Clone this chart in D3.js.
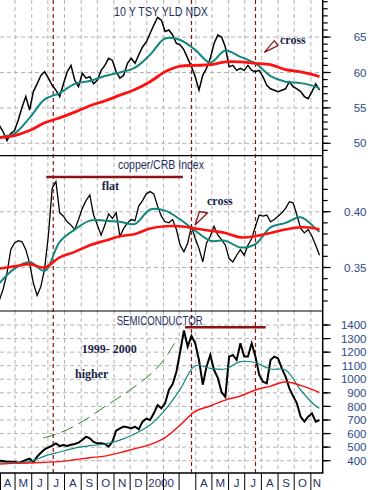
<!DOCTYPE html>
<html><head><meta charset="utf-8">
<script src="https://cdn.jsdelivr.net/npm/d3@7"></script>
<style>html,body{margin:0;padding:0;background:#fff;}svg{display:block;}</style>
</head><body><svg id="c" width="371" height="490"></svg>
<script>
// ---- DATA (weekly closes from 1999-04-02, moving averages every 4 weeks) ----
const firstWeek = "1999-04-02";
const tsyClose = [52.5,51.6,50.4,51.4,51.8,53.3,55.1,56.6,54.7,57.3,
58.4,59.6,60.1,59.2,58.2,57.5,56.6,58.4,60.1,61.0,
58.9,58.0,59.9,59.2,59.4,58.4,58.9,60.3,61.0,62.0,
61.7,60.1,59.2,59.6,61.3,62.0,61.3,62.5,63.6,64.3,
65.5,66.7,67.8,67.4,65.8,66.0,65.3,64.1,63.9,63.2,
62.0,60.8,59.4,57.5,59.6,60.6,62.0,64.1,65.3,65.0,
63.6,60.8,61.0,60.3,60.6,60.3,61.0,60.3,60.1,60.3,
59.4,58.2,57.7,57.5,57.3,57.5,57.7,58.7,58.0,57.7,
57.3,56.6,56.3,57.3,58.4,57.5];
const tsyMA50 = [50.9,51.4,53.6,56.2,57.1,58.4,58.8,59.5,60.0,60.7,62.5,64.8,64.6,63.2,61.4,63.1,62.2,61.3,59.5,58.7,58.5,58.0,57.7];
const tsyMA200 = [50.8,51.1,51.8,52.9,53.6,54.4,55.3,56.0,56.8,57.6,58.7,60.1,60.9,61.0,61.1,61.5,61.5,61.3,61.1,60.4,60.1,59.6,59.4];

const cuClose = [0.321,0.331,0.345,0.366,0.372,0.374,0.373,0.366,0.354,0.336,
0.325,0.333,0.349,0.379,0.421,0.427,0.399,0.396,0.391,0.388,
0.384,0.393,0.403,0.410,0.415,0.397,0.388,0.379,0.388,0.398,
0.394,0.399,0.378,0.385,0.390,0.393,0.392,0.405,0.410,0.416,
0.418,0.416,0.405,0.396,0.391,0.390,0.393,0.384,0.370,0.364,
0.372,0.387,0.376,0.367,0.355,0.372,0.378,0.387,0.379,0.375,
0.370,0.358,0.355,0.361,0.366,0.361,0.370,0.376,0.387,0.397,
0.396,0.397,0.391,0.393,0.396,0.399,0.403,0.409,0.408,0.397,
0.385,0.381,0.384,0.378,0.370,0.361];
const cuMA50 = [0.336,0.349,0.355,0.347,0.373,0.384,0.392,0.392,0.391,0.389,0.402,0.401,0.393,0.383,0.374,0.374,0.368,0.371,0.386,0.390,0.395,0.385,0.382];
const cuMA200 = [0.349,0.351,0.353,0.350,0.359,0.364,0.370,0.374,0.378,0.380,0.385,0.387,0.387,0.385,0.383,0.381,0.377,0.378,0.381,0.384,0.386,0.385,0.384];

const semiClose = [400,398,393,393,393,385,393,405,415,390,
430,459,484,498,511,528,508,516,508,518,
523,533,552,577,565,538,528,528,523,503,
540,621,638,651,646,638,651,631,688,710,
700,749,810,786,823,921,965,1056,1203,1360,
1240,1320,1265,1142,960,1093,1179,1068,1010,905,
870,1167,1179,1142,1265,1167,1167,1265,1167,1032,
982,970,1142,1167,1154,1081,1019,933,877,823,
724,688,724,749,688,700];
const semiMA50 = [385,385,393,434,464,493,511,523,552,599,663,774,926,1100,1081,1076,1130,1122,1076,1068,921,803,786];
const semiMA200 = [375,380,383,388,393,407,422,434,459,489,518,570,663,764,803,847,877,921,950,982,955,914,901];

const maWeeks = [0,4,8,12,16,20,24,28,32,36,40,44,48,52,56,60,64,68,72,76,80,84,85];

const monthLabels = ["A","M","J","J","A","S","O","N","D","2000","","","A","M","J","J","A","S","O","N"];
const tsyTicks = [50,55,60,65];
const cuTicks = [0.35,0.40];
const semiTicks = [400,500,600,700,800,900,1000,1100,1200,1300,1400];

const markerDates = ["1999-07-11","2000-03-24","2000-07-21"];
const flatLine = {from:"1999-06-28", to:"2000-03-08", value:0.431};
const semiTopLine = {from:"2000-03-12", to:"2000-08-09", value:1383};
const trendWeeks = [11.6,16.6,22.2,28.6,34.7,40.8,44.0,46.7];
const trendValues = [567,611,692,810,921,1054,1157,1275];

// ---- LAYOUT ----
const svg = d3.select("#c");
const W = 322.7, axisBottom = 473;
const panels = [{top:0,bottom:155.7},{top:155.7,bottom:311},{top:311,bottom:473}];
const parse = d3.utcParse("%Y-%m-%d");
const wk0 = parse(firstWeek);
const weekDate = k => new Date(+wk0 + k*7*864e5);

const x = d3.scaleUtc().domain([parse("1999-04-03"), parse("2000-11-23")]).range([0, W]);
const yT = d3.scaleLinear().domain([50,65]).range([143.3,37.1]);
const yC = d3.scaleLinear().domain([0.35,0.40]).range([267.5,211.7]);
const yS = d3.scaleLinear().domain([400,1400]).range([460.7,325]);

const GRID = "#b4b4b4", DARKRED = "#8b1414", TEAL = "#11877d", RED = "#ff1010";
const months = d3.utcMonth.range(parse("1999-04-01"), parse("2000-12-01"));

const defs = svg.append("defs");
panels.forEach((p,i)=>{
  defs.append("clipPath").attr("id","clip"+i).append("rect")
    .attr("x",0).attr("y",p.top).attr("width",W).attr("height",p.bottom-p.top);
});

panels.forEach((p,i)=>{
  svg.append("g").selectAll("line").data(months.filter(m=>x(m)>2 && x(m)<W-1)).join("line")
    .attr("x1",d=>x(d)).attr("x2",d=>x(d)).attr("y1",p.top).attr("y2",p.bottom)
    .attr("stroke",GRID).attr("stroke-dasharray","4,3").attr("stroke-width",1);
});
function hgrid(ticks, y){
  svg.append("g").selectAll("line").data(ticks).join("line")
    .attr("x1",0).attr("x2",W).attr("y1",d=>y(d)).attr("y2",d=>y(d))
    .attr("stroke",GRID).attr("stroke-dasharray","4,3").attr("stroke-width",1);
}
hgrid(tsyTicks,yT); hgrid(cuTicks,yC); hgrid(semiTicks,yS);

svg.append("g").selectAll("line").data(markerDates).join("line")
  .attr("x1",d=>x(parse(d))).attr("x2",d=>x(parse(d))).attr("y1",0).attr("y2",axisBottom)
  .attr("stroke",DARKRED).attr("stroke-dasharray","4,3").attr("stroke-width",1.2);

function drawSeries(i, y, close, ma50, ma200, wClose, wMA50, wMA200){
  const g = svg.append("g").attr("clip-path",`url(#clip${i})`);
  const maLine = d3.line().x((d,j)=>x(weekDate(maWeeks[j]))).y(d=>y(d)).curve(d3.curveCatmullRom);
  g.append("path").attr("d",d3.line().x((d,j)=>x(weekDate(j))).y(d=>y(d))(close))
    .attr("fill","none").attr("stroke","#000").attr("stroke-width",wClose).attr("stroke-linejoin","miter");
  g.append("path").attr("d",maLine(ma50)).attr("fill","none").attr("stroke",TEAL).attr("stroke-width",wMA50);
  g.append("path").attr("d",maLine(ma200)).attr("fill","none").attr("stroke",RED).attr("stroke-width",wMA200);
}
drawSeries(0,yT,tsyClose,tsyMA50,tsyMA200,1.5,2,2.8);
drawSeries(1,yC,cuClose,cuMA50,cuMA200,1.3,2,2.6);
drawSeries(2,yS,semiClose,semiMA50,semiMA200,2,1.2,1.4);

svg.append("path")
  .attr("d",d3.line().x((d,j)=>x(weekDate(trendWeeks[j]))).y(d=>yS(d)).curve(d3.curveCatmullRom)(trendValues))
  .attr("fill","none").attr("stroke","#238b23").attr("stroke-width",1).attr("stroke-dasharray","13,6");

[[flatLine,yC],[semiTopLine,yS]].forEach(([l,y])=>{
  svg.append("line").attr("x1",x(parse(l.from))).attr("x2",x(parse(l.to)))
    .attr("y1",y(l.value)).attr("y2",y(l.value)).attr("stroke",DARKRED).attr("stroke-width",2.5);
});

svg.append("polygon").attr("points","264.3,52.3 274.3,40.7 278,45.5")
  .attr("fill","#fff").attr("stroke",DARKRED).attr("stroke-width",1.3);
svg.append("polygon").attr("points","195,225 199.5,211.5 207.5,213")
  .attr("fill","#fff").attr("stroke",DARKRED).attr("stroke-width",1.3);

svg.append("line").attr("x1",0).attr("x2",W).attr("y1",155.7).attr("y2",155.7).attr("stroke","#000").attr("stroke-width",1.2);
svg.append("line").attr("x1",0).attr("x2",W).attr("y1",311).attr("y2",311).attr("stroke","#000").attr("stroke-width",1.2);
svg.append("line").attr("x1",0).attr("x2",W+0.7).attr("y1",axisBottom).attr("y2",axisBottom).attr("stroke","#000").attr("stroke-width",1.5);
svg.append("line").attr("x1",W).attr("x2",W).attr("y1",0).attr("y2",axisBottom).attr("stroke","#000").attr("stroke-width",1.5);

const LABEL = "#2c4a8c";
function rightTicks(y, minor, major, fmt, p){
  svg.append("g").selectAll("line").data(minor.filter(v=>y(v)>p.top+1 && y(v)<p.bottom-1)).join("line")
    .attr("x1",W).attr("x2",W+5).attr("y1",d=>y(d)).attr("y2",d=>y(d)).attr("stroke","#000").attr("stroke-width",1.2);
  svg.append("g").selectAll("line").data(major).join("line")
    .attr("x1",W).attr("x2",W+8).attr("y1",d=>y(d)).attr("y2",d=>y(d)).attr("stroke","#000").attr("stroke-width",1.2);
  svg.append("g").selectAll("text").data(major).join("text")
    .attr("x",366.5).attr("y",d=>y(d)).attr("dy","0.36em").attr("text-anchor","end")
    .attr("font-family","Liberation Sans, Arial, sans-serif").attr("font-size",11.5).attr("fill",LABEL)
    .text(fmt);
}
rightTicks(yT, d3.range(48,71,1), tsyTicks, d=>d, panels[0]);
rightTicks(yC, d3.range(0.31,0.46,0.01).map(v=>+v.toFixed(2)), cuTicks, d=>d3.format(".2f")(d), panels[1]);
rightTicks(yS, semiTicks, semiTicks, d=>d, panels[2]);

svg.append("g").selectAll("line").data(months.filter(m=>x(m)<W-1)).join("line")
  .attr("x1",d=>Math.max(0.5,x(d))).attr("x2",d=>Math.max(0.5,x(d))).attr("y1",axisBottom).attr("y2",490)
  .attr("stroke","#000").attr("stroke-width",1);
svg.append("g").selectAll("text").data(months).join("text")
  .attr("x",(d,i)=>{
    const a = Math.max(0,x(d)), b = Math.min(W, x(d3.utcMonth.offset(d,1)));
    return monthLabels[i]==="2000" ? a+1.5 : (a+b)/2;
  })
  .attr("y",487).attr("text-anchor",(d,i)=>monthLabels[i]==="2000"?"start":"middle")
  .attr("font-family","Liberation Sans, Arial, sans-serif").attr("font-size",11.5).attr("fill","#1f3366")
  .text((d,i)=>monthLabels[i]);

const TITLE = "#1f2f62";
[["10 Y TSY YLD NDX",114,16,94],["copper/CRB Index",118,169,86],["SEMICONDUCTOR",116.7,325,86]].forEach(([t,tx,ty,len])=>{
  svg.append("text").attr("x",tx).attr("y",ty).attr("font-family","Liberation Sans, Arial, sans-serif")
    .attr("font-size",12).attr("fill",TITLE).attr("textLength",len).attr("lengthAdjust","spacingAndGlyphs").text(t);
});
const NOTE = "#1a1f4a";
[["cross",280,44],["cross",207,205],["flat",101.7,190],["1999- 2000",81.7,352.5],["higher",75,377.5]].forEach(([t,tx,ty])=>{
  svg.append("text").attr("x",tx).attr("y",ty).attr("font-family","Liberation Serif, Times New Roman, serif")
    .attr("font-weight","bold").attr("font-size",12).attr("fill",NOTE).text(t);
});
</script></body></html>
